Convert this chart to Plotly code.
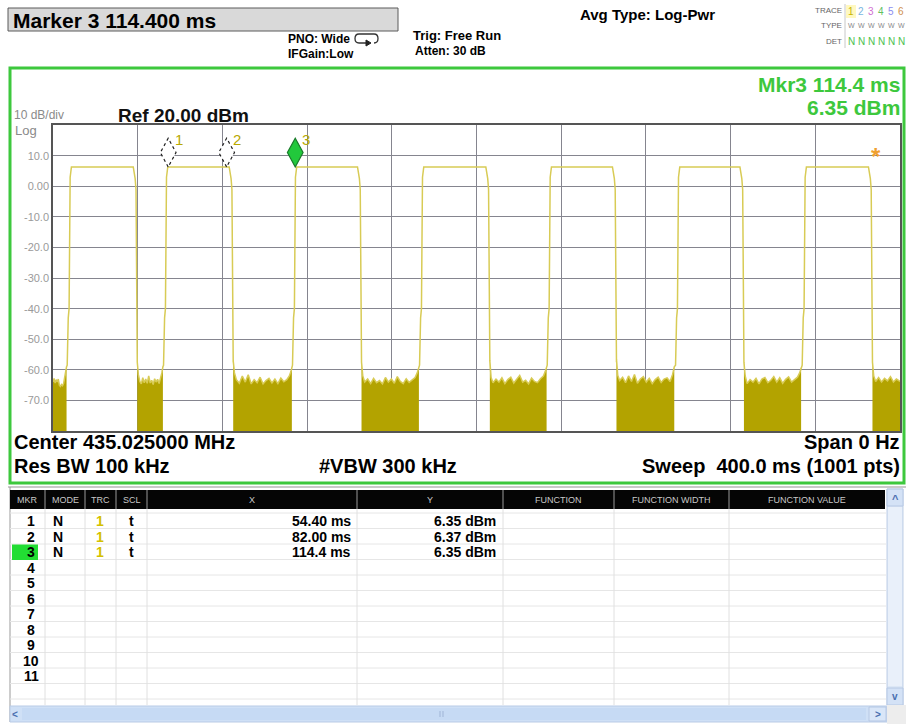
import plotly.graph_objects as go

sweep_ms = 400.0
ref_dbm = 20.0
bottom_dbm = -80.0
x_grid_ms = [0, 40, 80, 120, 160, 200, 240, 280, 320, 360, 400]
y_tick_vals = [10, 0, -10, -20, -30, -40, -50, -60, -70]
y_tick_text = ["10.0", "0.00", "-10.0", "-20.0", "-30.0", "-40.0", "-50.0", "-60.0", "-70.0"]

# pulse edges (ms) and on-level (dBm)
pulse_rise_ms = [6.7, 52.2, 113.1, 173.1, 233.4, 294.0, 353.8]
pulse_fall_ms = [39.3, 84.6, 145.2, 205.8, 265.6, 325.8, 386.5]
pulse_top_dbm = [6.35, 6.35, 6.36, 6.35, 6.34, 6.35, 6.35]

# edge profiles (offset in ms from the edge, level in dBm; None = on-level)
rise_dt = [0.0, 0.5, 0.9, 1.4, 2.0]
rise_db = [-58.5, -43.0, -40.0, 3.0, None]
fall_dt = [-1.4, -0.5, -0.1, 0.2, 0.5]
fall_db = [None, 2.5, -1.0, -50.0, -57.5]

# noise-floor envelopes in the off periods (ms, dBm)
gap_t = [
    [0.0, 0.5, 1.0, 1.5, 2.0, 2.5, 3.0, 3.5, 4.0, 4.5, 5.0, 5.5, 6.0, 6.4],
    [39.8, 40.3, 41.0, 41.7, 42.4, 43.1, 43.8, 44.5, 45.2, 45.9, 46.6, 47.3, 48.0, 48.7, 49.4, 50.1, 50.8, 51.4, 51.9],
    [85.1, 85.7, 86.6, 88.0, 89.4, 90.8, 92.2, 93.6, 95.0, 96.4, 97.8, 99.2, 100.6, 102.0, 103.4, 104.8, 106.2, 107.6, 109.0, 110.4, 111.6, 112.4, 112.8],
    [145.7, 146.3, 147.2, 148.6, 150.0, 151.4, 152.8, 154.2, 155.6, 157.0, 158.4, 159.8, 161.2, 162.6, 164.0, 165.4, 166.8, 168.2, 169.6, 171.0, 172.0, 172.8],
    [206.3, 206.9, 207.8, 209.2, 210.6, 212.0, 213.4, 214.8, 216.2, 217.6, 219.0, 220.4, 221.8, 223.2, 224.6, 226.0, 227.4, 228.8, 230.2, 231.6, 232.5, 233.1],
    [266.1, 266.7, 267.6, 269.0, 270.4, 271.8, 273.2, 274.6, 276.0, 277.4, 278.8, 280.2, 281.6, 283.0, 284.4, 285.8, 287.2, 288.6, 290.0, 291.4, 292.6, 293.4],
    [326.3, 326.9, 327.8, 329.2, 330.6, 332.0, 333.4, 334.8, 336.2, 337.6, 339.0, 340.4, 341.8, 343.2, 344.6, 346.0, 347.4, 348.8, 350.2, 351.6, 352.6, 353.3],
    [387.0, 387.6, 388.5, 389.9, 391.3, 392.7, 394.1, 395.5, 396.9, 398.3, 399.5, 400.0],
]
gap_db = [
    [-64.0, -62.8, -64.3, -63.2, -64.0, -63.0, -65.0, -65.4, -64.8, -65.2, -64.5, -63.0, -60.5, -59.0],
    [-57.5, -61.5, -63.8, -64.6, -62.6, -64.2, -63.0, -64.4, -62.0, -64.3, -63.4, -64.8, -62.9, -64.0, -63.1, -64.5, -63.0, -61.0, -59.0],
    [-57.0, -61.0, -63.2, -64.4, -62.0, -64.0, -61.6, -64.6, -63.2, -64.2, -62.4, -64.6, -63.5, -62.8, -64.3, -63.0, -64.5, -62.7, -63.9, -63.2, -62.0, -60.5, -59.0],
    [-57.5, -62.0, -64.0, -63.0, -64.5, -62.8, -64.2, -63.5, -64.6, -62.5, -64.0, -63.0, -64.4, -62.2, -63.8, -64.5, -62.9, -64.1, -63.3, -62.5, -61.0, -59.5],
    [-57.0, -62.5, -64.2, -63.0, -64.0, -62.6, -64.5, -63.2, -62.4, -64.3, -63.0, -61.8, -64.0, -63.4, -64.6, -62.7, -63.8, -64.2, -62.9, -62.0, -60.5, -59.0],
    [-56.5, -61.8, -63.5, -62.4, -64.2, -62.0, -63.8, -61.5, -64.4, -63.0, -62.2, -64.0, -62.8, -64.5, -63.2, -62.4, -64.1, -63.0, -62.6, -63.8, -61.5, -59.0],
    [-57.5, -62.0, -64.5, -63.2, -64.0, -62.8, -64.6, -63.0, -62.5, -64.2, -63.4, -62.2, -64.0, -62.6, -64.4, -63.1, -62.3, -64.0, -63.2, -62.4, -61.0, -59.0],
    [-57.5, -62.0, -63.8, -62.5, -64.0, -62.8, -63.6, -62.2, -64.0, -63.0, -63.5, -63.8],
]

# markers
mkr_num = [1, 2, 3]
mkr_x_ms = [54.40, 82.00, 114.4]
mkr_y_dbm = [6.35, 6.37, 6.35]
mkr_x_text = ["54.40 ms", "82.00 ms", "114.4 ms"]
mkr_y_text = ["6.35 dBm", "6.37 dBm", "6.35 dBm"]
mkr_mode = ["N", "N", "N"]
mkr_trc = ["1", "1", "1"]
mkr_scl = ["t", "t", "t"]
table_rows = list(range(1, 12))
table_headers = ["MKR", "MODE", "TRC", "SCL", "X", "Y", "FUNCTION", "FUNCTION WIDTH", "FUNCTION VALUE"]

# ---------------- layout helpers (pixel -> paper) ----------------
W, H = 906, 724
SANS = "Liberation Sans, Arial, sans-serif"
NARROW = "Liberation Sans Narrow, Arial Narrow, Liberation Sans, sans-serif"
GREEN = "#3DC83D"
OLIVE = "#B3A300"
LINEC = "#D8CB55"


def X(p):
    return p / W


def Y(p):
    return 1 - p / H


shapes = []
anns = []


def text(s, x, y, size, color="#000", bold=False, xanchor="left", family=SANS):
    anns.append(dict(text=f"<b>{s}</b>" if bold else s, x=X(x), y=Y(y), xref="paper", yref="paper",
                     xanchor=xanchor, yanchor="middle", showarrow=False, borderpad=0,
                     font=dict(size=size, color=color, family=family)))


def rect(x0, y0, x1, y1, fill=None, line=None, lw=1, dash="solid"):
    shapes.append(dict(type="rect", xref="paper", yref="paper", x0=X(x0), x1=X(x1), y0=Y(y1), y1=Y(y0),
                       fillcolor=fill or "rgba(0,0,0,0)",
                       line=dict(color=line or "rgba(0,0,0,0)", width=lw if line else 0, dash=dash),
                       layer="above"))


def hline(x0, x1, y, color, lw=1):
    shapes.append(dict(type="line", xref="paper", yref="paper", x0=X(x0), x1=X(x1), y0=Y(y), y1=Y(y),
                       line=dict(color=color, width=lw), layer="above"))


def vline(x, y0, y1, color, lw=1):
    shapes.append(dict(type="line", xref="paper", yref="paper", x0=X(x), x1=X(x), y0=Y(y0), y1=Y(y1),
                       line=dict(color=color, width=lw), layer="above"))


# ---------------- trace ----------------
tx, ty = list(gap_t[0]), list(gap_db[0])
for i in range(len(pulse_rise_ms)):
    top = pulse_top_dbm[i]
    for dt, db in zip(rise_dt, rise_db):
        tx.append(pulse_rise_ms[i] + dt)
        ty.append(top if db is None else db)
    for dt, db in zip(fall_dt, fall_db):
        tx.append(pulse_fall_ms[i] + dt)
        ty.append(top if db is None else db)
    tx += gap_t[i + 1]
    ty += gap_db[i + 1]

fx, fy = [], []
for t, d in zip(gap_t, gap_db):
    fx += [t[0]] + t + [t[-1], None]
    fy += [bottom_dbm] + d + [bottom_dbm, None]

fig = go.Figure()
fig.add_trace(go.Scatter(x=fx, y=fy, mode="lines", fill="toself", fillcolor=OLIVE,
                         line=dict(width=0, color=OLIVE), hoverinfo="skip"))
fig.add_trace(go.Scatter(x=tx, y=ty, mode="lines", line=dict(color=LINEC, width=1.5), hoverinfo="skip"))

# marker diamonds
half_w_ms, h_db = 3.7, 9.4
for n, mx, my in zip(mkr_num, mkr_x_ms, mkr_y_dbm):
    path = (f"M {mx},{my} L {mx - half_w_ms},{my + h_db / 2} L {mx},{my + h_db} "
            f"L {mx + half_w_ms},{my + h_db / 2} Z")
    active = n == 3
    shapes.append(dict(type="path", xref="x", yref="y", path=path,
                       fillcolor="#22C83C" if active else "white",
                       line=dict(color="#1a7a2a" if active else "#222", width=1.2,
                                 dash="solid" if active else "dot"), layer="above"))
    anns.append(dict(text=str(n), x=mx + half_w_ms * 0.6, y=my + h_db * 0.95, xref="x", yref="y",
                     xanchor="left", yanchor="middle", showarrow=False,
                     font=dict(size=15, color="#B8A800", family=SANS)))

# ---------------- screen decorations ----------------
# header
rect(8, 8, 398, 31, fill="#D9D9D9", line="#5a5a5a", lw=1)
text("Marker 3 114.400 ms", 12, 20, 21, bold=True)
text("PNO: Wide", 287, 39, 12, bold=True)
text("IFGain:Low", 287, 54, 12, bold=True)
shapes.append(dict(type="path", xref="paper", yref="paper", layer="above",
                   path=(f"M {X(368)},{Y(43)} L {X(359)},{Y(43)} Q {X(355)},{Y(43)} {X(355)},{Y(38.5)} "
                         f"Q {X(355)},{Y(34)} {X(359)},{Y(34)} L {X(374)},{Y(34)} "
                         f"Q {X(378)},{Y(34)} {X(378)},{Y(38.5)} Q {X(378)},{Y(43)} {X(374)},{Y(43)}"),
                   line=dict(color="#333", width=1.3)))
shapes.append(dict(type="path", xref="paper", yref="paper", layer="above",
                   path=f"M {X(366)},{Y(40)} L {X(371)},{Y(43)} L {X(366)},{Y(46)} Z",
                   fillcolor="#222", line=dict(color="#222", width=1)))
text("Trig: Free Run", 412, 35, 13, bold=True)
text("Atten: 30 dB", 414, 51, 12, bold=True)
text("Avg Type: Log-Pwr", 579, 14, 15, bold=True)

text("TRACE", 843, 11, 8, "#666", xanchor="right")
text("TYPE", 843, 26, 8, "#666", xanchor="right")
text("DET", 843, 41, 8, "#666", xanchor="right")
vline(845, 4, 48, "#C8C8C8", 1)
rect(846, 5, 856, 18, fill="#FFF8C0")
trace_cols = ["#C8B400", "#7AB6E0", "#D070D0", "#60C060", "#8C8CF0", "#D09050"]
for i, c in enumerate(trace_cols):
    text(str(i + 1), 851 + 10 * i, 12, 10, c, xanchor="center")
    text("W", 851 + 10 * i, 26, 7, "#8a8a8a", xanchor="center")
    text("N", 851 + 10 * i, 41, 10, "#4CC04C", xanchor="center")

# green display frame
rect(10, 68, 904, 483, line=GREEN, lw=3)
text("Mkr3 114.4 ms", 901, 84, 21, GREEN, bold=True, xanchor="right")
text("6.35 dBm", 901, 108, 21, GREEN, bold=True, xanchor="right")
text("10 dB/div", 13, 115, 12, "#8a8a8a")
text("Log", 14, 130, 13, "#8a8a8a")
text("Ref 20.00 dBm", 117, 115, 19, "#111", bold=True)
text("*", 876, 156, 24, "#F0A030", bold=True, xanchor="center")

text("Center 435.025000 MHz", 13, 442, 20, bold=True)
text("Span 0 Hz", 901, 442, 20, bold=True, xanchor="right")
text("Res BW 100 kHz", 13, 466, 20, bold=True)
text("#VBW 300 kHz", 388, 466, 20, bold=True, xanchor="center")
text("Sweep  400.0 ms (1001 pts)", 901, 466, 20, bold=True, xanchor="right")

# ---------------- marker table ----------------
hline(8, 906, 487, "#B8B8B8", 1.5)
vline(10, 487, 722, "#9a9a9a", 1)
col_sep = [45, 85, 116, 147, 357, 503, 614, 729]
col_edges = [10] + col_sep + [885]
rect(10, 490, 885, 509, fill="#050505")
for cx in col_sep:
    vline(cx, 490, 509, "#9a9a9a", 1)
for i, h in enumerate(table_headers):
    text(h, (col_edges[i] + col_edges[i + 1]) / 2, 499.5, 9, "#C8C8C8", xanchor="center", family=NARROW)
row_top0, row_h = 513.5, 15.5
for k in range(13):
    hline(10, 886, row_top0 + row_h * k - 0.5, "#E6E6E6", 1)
for cx in col_sep:
    vline(cx, 509, 705, "#E0E0E0", 1)
rect(12, row_top0 + row_h * 2, 38, row_top0 + row_h * 3, fill="#22DD33")
for k, r in enumerate(table_rows):
    yc = row_top0 + row_h * k + row_h / 2
    text(str(r), 31, yc, 14, bold=True, xanchor="center")
for k in range(len(mkr_num)):
    yc = row_top0 + row_h * k + row_h / 2
    text(mkr_mode[k], 58, yc, 14, bold=True, xanchor="center")
    text(mkr_trc[k], 100, yc, 14, "#D4C000", bold=True, xanchor="center")
    text(mkr_scl[k], 131, yc, 14, bold=True, xanchor="center")
    text(mkr_x_text[k], 352, yc, 14, bold=True, xanchor="right")
    text(mkr_y_text[k], 497, yc, 14, bold=True, xanchor="right")

# scrollbars
rect(887, 489, 903, 705, fill="#DCE7F6", line="#C0CFE6", lw=1)
rect(888, 507, 902, 686, fill="#E9F0FA")
rect(887, 489, 903, 506, fill="#D4E2F6", line="#B6C8E4", lw=1)
rect(887, 688, 903, 705, fill="#D4E2F6", line="#B6C8E4", lw=1)
text("^", 895, 499, 11, "#4a6fb0", bold=True, xanchor="center")
text("v", 895, 696, 10, "#4a6fb0", bold=True, xanchor="center")
rect(10, 706, 887, 722, fill="#CFE0F6", line="#B9CBE6", lw=1)
rect(22, 708, 866, 720, fill="#C6DAF4")
rect(869, 707, 886, 721, fill="#D9E6F8", line="#B6C8E4", lw=1)
vline(440, 711, 717, "#9fb4d6", 1)
vline(443, 711, 717, "#9fb4d6", 1)
text("<", 15, 714, 10, "#4a6fb0", bold=True, xanchor="center")
text(">", 878, 714, 10, "#4a6fb0", bold=True, xanchor="center")
rect(887, 705, 906, 724, fill="#EDEDED")

# ---------------- axes / layout ----------------
fig.update_layout(
    width=W, height=H,
    margin=dict(l=0, r=0, t=0, b=0),
    paper_bgcolor="white",
    plot_bgcolor="rgba(0,0,0,0)",
    showlegend=False,
    shapes=shapes,
    annotations=anns,
    xaxis=dict(domain=[X(53), X(900)], range=[0, sweep_ms], tickvals=x_grid_ms, showticklabels=False,
               showgrid=True, gridcolor="#85858F", gridwidth=1, zeroline=False,
               showline=True, mirror=True, linecolor="#555", linewidth=1.5, ticks=""),
    yaxis=dict(domain=[Y(431), Y(125.2)], range=[bottom_dbm, ref_dbm], tickvals=y_tick_vals,
               ticktext=y_tick_text, showgrid=True, gridcolor="#85858F", gridwidth=1, zeroline=False,
               showline=True, mirror=True, linecolor="#555", linewidth=1.5, ticks="",
               tickfont=dict(size=11, color="#9a9a9a", family=SANS)),
)

fig.write_html("out.html", config={"displayModeBar": False},
               post_script="document.body.style.margin='0';document.body.style.overflow='hidden';")
